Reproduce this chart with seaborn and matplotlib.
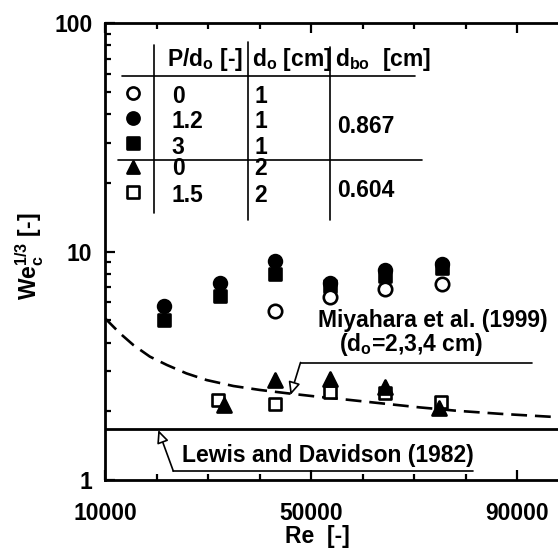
import numpy as np
import pandas as pd
import matplotlib
matplotlib.use("Agg")
import matplotlib.pyplot as plt
from matplotlib.ticker import FixedLocator, NullFormatter, LogLocator, FixedFormatter
import seaborn as sns

# Critical Weber number data, We_c^(1/3) versus Reynolds number
re_d1 = [21500, 32300, 42900, 53600, 64300, 75300]
we_filled_circle = [5.77, 7.28, 9.10, 7.30, 8.35, 8.85]   # P/do = 1.2, do = 1 cm
we_filled_square = [5.00, 6.37, 8.00, 7.05, 7.85, 8.47]   # P/do = 3,   do = 1 cm
re_open_circle = [42900, 53600, 64300, 75300]
we_open_circle = [5.52, 6.30, 6.85, 7.20]                 # P/do = 0,   do = 1 cm
re_triangle = [33000, 42900, 53600, 64300, 74800]
we_triangle = [2.13, 2.74, 2.77, 2.56, 2.06]              # P/do = 0,   do = 2 cm
re_open_square = [31900, 42900, 53600, 64300, 75200]
we_open_square = [2.24, 2.16, 2.42, 2.40, 2.20]           # P/do = 1.5, do = 2 cm

# Miyahara et al. (1999) correlation
re_miyahara = [10000, 12900, 15500, 18700, 22000, 25800, 29700, 34900, 40000,
               45200, 51700, 56800, 63300, 71000, 78200, 86500, 96800, 100000]
we_miyahara = [5.11, 4.39, 3.90, 3.47, 3.19, 2.93, 2.74, 2.58, 2.48,
               2.40, 2.31, 2.25, 2.17, 2.08, 2.01, 1.95, 1.89, 1.87]

# Lewis and Davidson (1982) value
we_lewis = 1.68

x_ticks = [10000, 50000, 90000]
x_tick_labels = ["10000", "50000", "90000"]
y_ticks = [1, 10, 100]
y_tick_labels = ["1", "10", "100"]

sns.set_style("ticks")
plt.rcParams["font.family"] = ["Liberation Sans", "DejaVu Sans"]
plt.rcParams["font.weight"] = "bold"
plt.rcParams["axes.labelweight"] = "bold"
plt.rcParams["axes.labelcolor"] = "black"
plt.rcParams["mathtext.fontset"] = "custom"
plt.rcParams["mathtext.rm"] = "Liberation Sans:bold"
plt.rcParams["mathtext.it"] = "Liberation Sans:italic:bold"
plt.rcParams["text.color"] = "black"

W, H = 558, 549
fig = plt.figure(figsize=(W / 100, H / 100), dpi=100)
AX_L, AX_R, AX_T, AX_B = 105, 569, 23.3, 480
ax = fig.add_axes([AX_L / W, (H - AX_B) / H, (AX_R - AX_L) / W, (AX_B - AX_T) / H])


def af(x, y):
    """pixel position (from top-left) -> axes fraction"""
    return ((x - AX_L) / (AX_R - AX_L), (AX_B - y) / (AX_B - AX_T))


FS = 16.5
MS = 9.2

# correlation curve and reference line
curve = pd.DataFrame({"Re": re_miyahara, "We": we_miyahara})
sns.lineplot(data=curve, x="Re", y="We", ax=ax, color="black", lw=1.9,
             dashes=False, linestyle=(0, (6, 3)), zorder=2)
ax.axhline(we_lewis, color="black", lw=2.0, zorder=2)

series = [
    (re_d1, we_filled_circle, "o", "black", MS),
    (re_d1, we_filled_square, "s", "black", MS * 0.95),
    (re_open_circle, we_open_circle, "o", "white", MS * 1.05),
    (re_open_square, we_open_square, "s", "white", MS * 1.0),
    (re_triangle, we_triangle, "^", "black", MS * 1.1),
]
for i, (xs, ys, mk, fc, ms) in enumerate(series):
    df = pd.DataFrame({"Re": xs, "We": ys})
    sns.scatterplot(data=df, x="Re", y="We", ax=ax, marker=mk, s=ms ** 2,
                    facecolor=fc, edgecolor="black", linewidth=1.9,
                    zorder=3 + i, legend=False)

ax.set_yscale("log")
ax.set_xlim(10000, 100000)
ax.set_ylim(1, 100)

ax.xaxis.set_major_locator(FixedLocator(x_ticks))
ax.xaxis.set_major_formatter(FixedFormatter(x_tick_labels))
ax.xaxis.set_minor_locator(FixedLocator(np.arange(20000, 100001, 10000)))
ax.yaxis.set_major_locator(FixedLocator(y_ticks))
ax.yaxis.set_major_formatter(FixedFormatter(y_tick_labels))
ax.yaxis.set_minor_locator(LogLocator(base=10, subs=np.arange(2, 10)))
ax.yaxis.set_minor_formatter(NullFormatter())

ax.tick_params(which="both", direction="in", top=True, right=True,
               width=1.6, color="black", labelsize=FS, labelcolor="black")
ax.tick_params(which="major", length=7.5)
ax.tick_params(which="minor", length=4)
ax.tick_params(axis="x", which="major", pad=16)
ax.tick_params(axis="y", which="major", pad=9)
for side in ["left", "top", "bottom", "right"]:
    ax.spines[side].set_linewidth(2.0)
    ax.spines[side].set_color("black")

ax.set_xlabel("Re  [-]", fontsize=FS, color="black")
ax.set_ylabel(r"We$_\mathregular{c}^{\mathregular{1/3}}$ [-]", fontsize=FS, color="black")
ax.xaxis.set_label_coords(*af(317, 537))
ax.xaxis.label.set_va("center")
ax.yaxis.set_label_coords(*af(30, 256))
ax.yaxis.label.set_va("center")

# properties table
LW_T = 1.2
def hline(y, x0, x1):
    (a0, b), (a1, _) = af(x0, y), af(x1, y)
    ax.plot([a0, a1], [b, b], transform=ax.transAxes, color="black", lw=LW_T,
            clip_on=False, zorder=10)

def vline(x, y0, y1):
    (a, b0), (_, b1) = af(x, y0), af(x, y1)
    ax.plot([a, a], [b0, b1], transform=ax.transAxes, color="black", lw=LW_T,
            clip_on=False, zorder=10)

vline(154.3, 45, 213)
vline(247.7, 42, 220)
vline(330, 47, 220)
hline(76, 121.7, 415)
hline(160, 118.3, 421.7)

def txt(x, y, s, ha="left"):
    ax.text(*af(x, y), s, transform=ax.transAxes, fontsize=FS, ha=ha,
            va="baseline", color="black", zorder=11)

txt(166.7, 66, r"P/d$_\mathregular{o}$ [-]")
txt(251.7, 66, r"d$_\mathregular{o}$ [cm]")
txt(335, 66, r"d$_\mathregular{bo}$  [cm]")

rows_y = [103.5, 127.8, 153.5, 175.2, 201.8]
pd_vals = ["0", "1.2", "3", "0", "1.5"]
do_vals = ["1", "1", "1", "2", "2"]
for yb, p, d in zip(rows_y, pd_vals, do_vals):
    txt(171.7, yb, p)
    txt(261, yb, d, ha="center")
txt(336.7, 133.3, "0.867")
txt(336.7, 196.7, "0.604")

sym_y = [93.3, 118.3, 143.3, 166.7, 191.7]
sym_style = [("o", "white"), ("o", "black"), ("s", "black"), ("^", "black"), ("s", "white")]
for yc, (mk, fc) in zip(sym_y, sym_style):
    ax.scatter(*af(133.3, yc), transform=ax.transAxes, marker=mk, s=(MS * 0.95) ** 2,
               facecolor=fc, edgecolor="black", linewidth=1.9, clip_on=False, zorder=12)

# annotations with leader lines
ax.text(*af(318.3, 326.5), "Miyahara et al. (1999)", transform=ax.transAxes,
        fontsize=FS, ha="left", va="baseline", color="black", zorder=11)
ax.text(*af(339.3, 351), r"(d$_\mathregular{o}$=2,3,4 cm)", transform=ax.transAxes,
        fontsize=FS, ha="left", va="baseline", color="black", zorder=11)
hline(362.5, 300.5, 531.7)
arrow = dict(arrowstyle="-|>,head_length=0.55,head_width=0.25", fc="white",
             ec="black", lw=1.2, mutation_scale=14, shrinkA=0, shrinkB=0)
ax.annotate("", xy=af(290.5, 395), xytext=af(300.5, 362.5),
            xycoords="axes fraction", textcoords="axes fraction",
            arrowprops=arrow, zorder=11)

ax.text(*af(181.7, 462), "Lewis and Davidson (1982)", transform=ax.transAxes,
        fontsize=FS, ha="left", va="baseline", color="black", zorder=11)
hline(471, 173.3, 473)
ax.annotate("", xy=af(158.3, 430), xytext=af(173.3, 471),
            xycoords="axes fraction", textcoords="axes fraction",
            arrowprops=arrow, zorder=11)

fig.savefig("out.png", dpi=100, facecolor="white")
